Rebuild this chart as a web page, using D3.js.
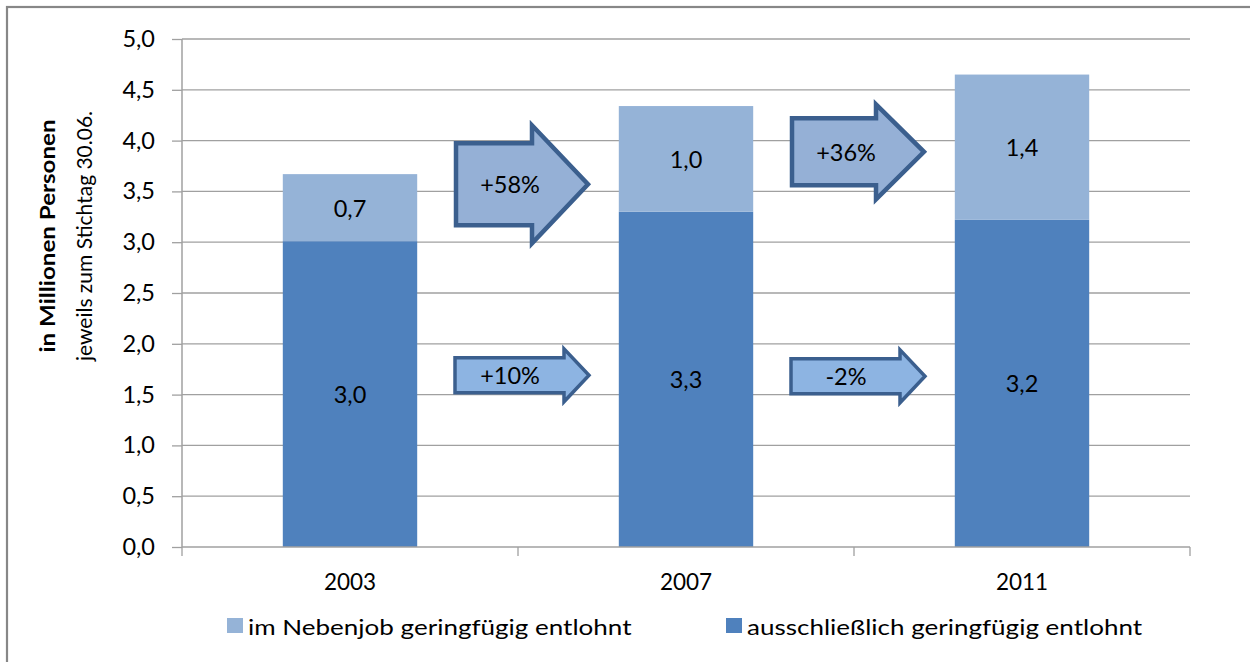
<!DOCTYPE html>
<html>
<head>
<meta charset="utf-8">
<script src="https://cdn.jsdelivr.net/npm/d3@7"></script>
<style>
  html, body { margin: 0; padding: 0; background: #fff; }
  svg { display: block; font-family: Lato, "Open Sans", sans-serif; }
</style>
</head>
<body>
<svg id="chart" width="1250" height="662"></svg>
<script>
// Geringfügig entlohnte Beschäftigte, jeweils zum Stichtag 30.06.
const years = ["2003", "2007", "2011"];
const exclusive = [3.01, 3.30, 3.22];   // ausschließlich geringfügig entlohnt
const sideJob = [0.66, 1.04, 1.43];     // im Nebenjob geringfügig entlohnt
const seriesNames = ["im Nebenjob geringfügig entlohnt", "ausschließlich geringfügig entlohnt"];
const yTicks = [0, 0.5, 1, 1.5, 2, 2.5, 3, 3.5, 4, 4.5, 5];

// Change annotations between survey years (label, from year, vertical centre in Mio.)
const changeLabels = ["+58%", "+10%", "+36%", "-2%"];
const changeFrom = ["2003", "2003", "2007", "2007"];
const changeLevel = [3.57, 1.69, 3.89, 1.68];
const changeSize = ["large", "small", "medium", "small"];

const colors = { exclusive: "#4F81BD", sideJob: "#95B3D7" };
const gridColor = "#a0a0a0";

const svg = d3.select("#chart");
const W = 1250, H = 662;
const margin = { left: 182, right: 60, top: 39, bottom: 115 };
const plotW = W - margin.left - margin.right;
const plotH = H - margin.top - margin.bottom;

// horizontally widened text (keeps the wide letter shapes of the original typeface)
function wideText(parent, x, y, str, size, k, anchor, weight) {
  return parent.append("text")
    .attr("transform", `translate(${x},${y}) scale(${k},1)`)
    .attr("text-anchor", anchor || "start")
    .attr("dominant-baseline", "central")
    .style("font-size", size + "px")
    .style("font-weight", weight || "normal")
    .attr("fill", "#000")
    .text(str);
}

// outer frame (top and left edges visible, continues beyond the view)
svg.append("rect")
  .attr("x", 7).attr("y", 7).attr("width", 1300).attr("height", 700)
  .attr("fill", "#fff").attr("stroke", "#878787").attr("stroke-width", 2.2);

const g = svg.append("g").attr("transform", `translate(${margin.left},${margin.top})`);

const x = d3.scaleBand().domain(years).range([0, plotW]).paddingInner(0).paddingOuter(0);
const y = d3.scaleLinear().domain([0, 5]).range([plotH, 0]);
const barW = x.bandwidth() * 0.4;

// horizontal gridlines
g.append("g").selectAll("line").data(yTicks.slice(1)).join("line")
  .attr("x1", 0).attr("x2", plotW)
  .attr("y1", d => y(d)).attr("y2", d => y(d))
  .attr("stroke", gridColor).attr("stroke-width", 1.3);

// y axis
const fmt = d3.format(".1f");
const de = v => fmt(v).replace(".", ",");
const yAxis = g.append("g")
  .call(d3.axisLeft(y).tickValues(yTicks).tickSize(10).tickPadding(17).tickFormat(de));
yAxis.select(".domain").attr("stroke", gridColor).attr("stroke-width", 1.5).attr("d", `M0,0V${plotH}`);
yAxis.selectAll(".tick line").attr("stroke", gridColor).attr("stroke-width", 1.3);
yAxis.selectAll(".tick text").attr("fill", "#000").style("font-size", "23.5px")
  .style("font-family", "Lato, sans-serif");

// stacked bars
const stacks = years.map((yr, i) => ({ yr, a: exclusive[i], b: sideJob[i] }));
const bars = g.append("g");
bars.selectAll("rect.ex").data(stacks).join("rect").attr("class", "ex")
  .attr("x", d => x(d.yr) + (x.bandwidth() - barW) / 2).attr("width", barW)
  .attr("y", d => y(d.a)).attr("height", d => y(0) - y(d.a))
  .attr("fill", colors.exclusive);
bars.selectAll("rect.sj").data(stacks).join("rect").attr("class", "sj")
  .attr("x", d => x(d.yr) + (x.bandwidth() - barW) / 2).attr("width", barW)
  .attr("y", d => y(d.a + d.b)).attr("height", d => y(d.a) - y(d.a + d.b))
  .attr("fill", colors.sideJob);

// segment value labels
const labelStyle = sel => sel.attr("text-anchor", "middle").attr("dominant-baseline", "central")
  .style("font-size", "23.5px").attr("fill", "#000");
bars.selectAll("text.ex").data(stacks).join("text").attr("class", "ex")
  .attr("x", d => x(d.yr) + x.bandwidth() / 2).attr("y", d => y(d.a / 2))
  .text(d => de(d.a)).call(labelStyle);
bars.selectAll("text.sj").data(stacks).join("text").attr("class", "sj")
  .attr("x", d => x(d.yr) + x.bandwidth() / 2).attr("y", d => y(d.a + d.b / 2))
  .text(d => de(d.b)).call(labelStyle);

// x axis
const xAxis = g.append("g").attr("transform", `translate(0,${plotH})`)
  .call(d3.axisBottom(x).tickSize(0).tickPadding(27));
xAxis.select(".domain").attr("stroke", gridColor).attr("stroke-width", 1.5).attr("d", `M0,0H${plotW}`);
xAxis.selectAll(".tick text").attr("fill", "#000").style("font-size", "22.5px")
  .style("font-family", "Lato, sans-serif");
// category separators
const seps = years.map(yr => x(yr)).concat([plotW]);
xAxis.append("g").selectAll("line").data(seps).join("line")
  .attr("x1", d => d).attr("x2", d => d).attr("y1", 0).attr("y2", 9)
  .attr("stroke", gridColor).attr("stroke-width", 1.3);

// block arrows showing the change between years
const shapes = {
  large:  { w: 132, body: 82, head: 118, headLen: 56, fill: "#95B0D6", stroke: "#3B5F8E", sw: 4.5 },
  medium: { w: 132, body: 67, head: 95,  headLen: 48, fill: "#95B0D6", stroke: "#3B5F8E", sw: 4.5 },
  small:  { w: 134, body: 35, head: 53,  headLen: 25, fill: "#8DB4E2", stroke: "#3B5F8E", sw: 3.5 }
};
const arrows = g.append("g");
changeLabels.forEach((lab, i) => {
  const s = shapes[changeSize[i]];
  const cx = x(changeFrom[i]) + x.bandwidth() + 4;   // centred on the category boundary
  const cy = y(changeLevel[i]);
  const x0 = cx - s.w / 2, x1 = cx + s.w / 2, xh = x1 - s.headLen;
  const pts = [
    [x0, cy - s.body / 2], [xh, cy - s.body / 2], [xh, cy - s.head / 2],
    [x1, cy], [xh, cy + s.head / 2], [xh, cy + s.body / 2], [x0, cy + s.body / 2]
  ];
  arrows.append("path")
    .attr("d", d3.line()(pts) + "Z")
    .attr("fill", s.fill).attr("stroke", s.stroke).attr("stroke-width", s.sw)
    .attr("stroke-linejoin", "miter");
  arrows.append("text")
    .attr("x", cx - 12).attr("y", cy)
    .attr("text-anchor", "middle").attr("dominant-baseline", "central")
    .style("font-size", "23.5px").attr("fill", "#000").text(lab);
});

// y axis title
const title = svg.append("g").attr("transform", "translate(0,236) rotate(-90)");
wideText(title, 0, 47, "in Millionen Personen", 21, 1.15, "middle", "bold");
wideText(title, 0, 83, "jeweils zum Stichtag 30.06.", 21, 1.0, "middle");

// legend
const legendItems = [
  { name: seriesNames[0], color: colors.sideJob, x: 227 },
  { name: seriesNames[1], color: colors.exclusive, x: 726 }
];
legendItems.forEach(it => {
  svg.append("rect").attr("x", it.x).attr("y", 618).attr("width", 16).attr("height", 15)
    .attr("fill", it.color);
  wideText(svg, it.x + 21, 627, it.name, 21, 1.24, "start");
});
</script>
</body>
</html>
